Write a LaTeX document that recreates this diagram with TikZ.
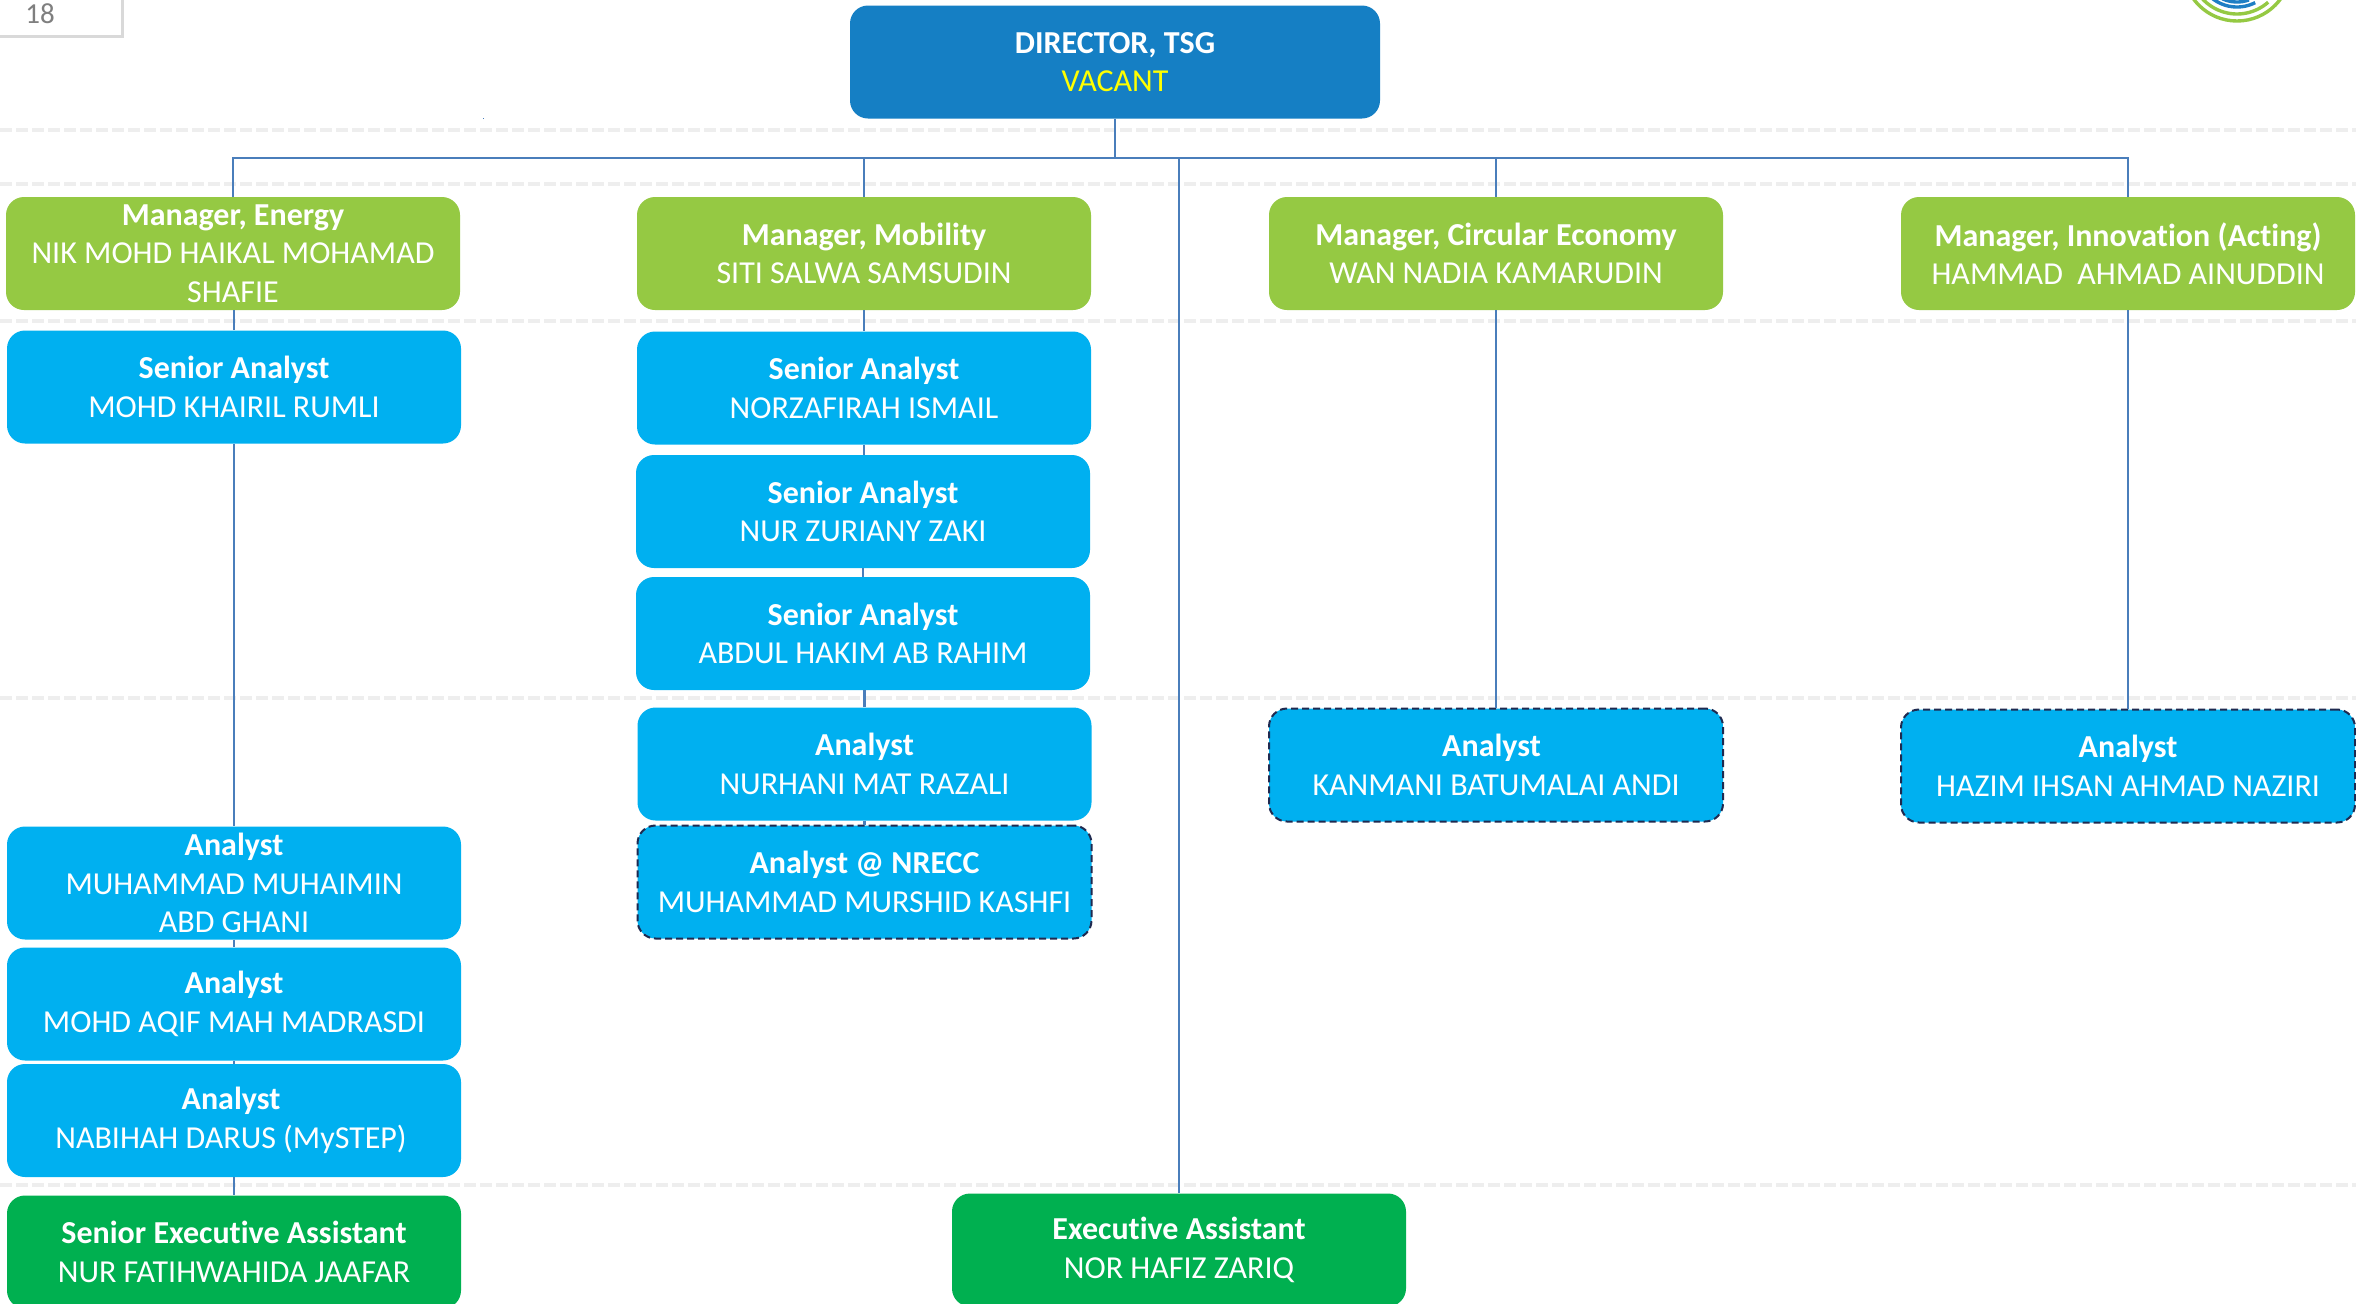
\documentclass[tikz,border=0pt]{standalone}
\usepackage{fontspec}
\setmainfont[Ligatures=NoCommon]{Carlito}
\usetikzlibrary{calc}
\definecolor{dirblue}{HTML}{157FC4}
\definecolor{mgrgreen}{HTML}{95C943}
\definecolor{skyb}{HTML}{00B0F0}
\definecolor{exgreen}{HTML}{00B050}
\definecolor{linkblue}{HTML}{4A7EBB}
\definecolor{gridgrey}{HTML}{EEEEEE}
\definecolor{navy}{HTML}{1F2A50}
\definecolor{vacant}{HTML}{FFFF00}
\definecolor{numgrey}{HTML}{7F7F7F}
\definecolor{pagegrey}{HTML}{D9D9D9}
\definecolor{logoblue}{HTML}{1F7EC4}
\tikzset{
  drop/.style={execute at begin node={\rule{0pt}{#1}}},
  orgbox/.style={rectangle,rounded corners=9pt,minimum width=227pt,minimum height=56.5pt,inner sep=0pt,
     align=center,text=white,font=\fontsize{16}{19.2}\selectfont,drop=14pt},
  dirbox/.style={orgbox,fill=dirblue,minimum width=265pt},
  mgr/.style={orgbox,fill=mgrgreen},
  staff/.style={orgbox,fill=skyb},
  exec/.style={orgbox,fill=exgreen},
  tbc/.style={staff,draw=navy,line width=1pt,dash pattern=on 3.5pt off 2pt},
  link/.style={draw=linkblue,line width=1.2pt},
  gridline/.style={draw=gridgrey,line width=1.6pt,dash pattern=on 6pt off 2pt}
}
\begin{document}
\begin{tikzpicture}[x=0.5pt,y=-0.5pt]
\clip (0,0) rectangle (2356,1303);
\fill[white] (0,0) rectangle (2356,1303);
% background rules
\foreach \yy in {130,184,321,698,1185} \draw[gridline] (0,\yy) -- (2356,\yy);
% page tab
\draw[pagegrey,line width=1.5pt] (0,36) -- (122,36) -- (122,0);
\node[text=numgrey,font=\fontsize{14.5}{16}\selectfont,inner sep=0pt] (pg) at (40,14) {18};
% speck
\fill[linkblue] (482.5,117.5) rectangle (484,119);
% logo
\begin{scope}[line width=1.7pt]
\draw[mgrgreen] (2237,-33) circle[radius=54];
\draw[mgrgreen] ($(2237,-33)+(48.5:47)$) arc[start angle=48.5,end angle=150,radius=47];
\draw[logoblue] ($(2237,-33)+(63:40)$) arc[start angle=63,end angle=140,radius=40];
\draw[logoblue] ($(2237,-33)+(70:35)$) arc[start angle=70,end angle=115,radius=35];
\end{scope}
% nodes
\node[dirbox] (dir) at (1115,62) {\textbf{DIRECTOR, TSG}\\\textcolor{vacant}{VACANT}};
\node[mgr] (m1) at (233,253.5) {\textbf{Manager, Energy}\\NIK MOHD HAIKAL MOHAMAD\\SHAFIE};
\node[mgr] (m2) at (864,253.5) {\textbf{Manager, Mobility}\\SITI SALWA SAMSUDIN};
\node[mgr] (m3) at (1496,253.5) {\textbf{Manager, Circular Economy}\\WAN NADIA KAMARUDIN};
\node[mgr] (m4) at (2128,253.5) {\textbf{Manager, Innovation (Acting)}\\HAMMAD\ \ AHMAD AINUDDIN};
\node[staff] (e1) at (234,387) {\textbf{Senior Analyst}\\MOHD KHAIRIL RUMLI};
\node[staff] (e2) at (234,883) {\textbf{Analyst}\\MUHAMMAD MUHAIMIN\\ABD GHANI};
\node[staff,drop=17pt] (e3) at (234,1004) {\textbf{Analyst}\\MOHD AQIF MAH MADRASDI};
\node[staff,drop=17pt] (e4) at (234,1120.5) {\textbf{Analyst}\hspace*{3pt}\\NABIHAH DARUS (MySTEP)\hspace*{3pt}};
\node[exec] (e5) at (234,1252) {\textbf{Senior Executive Assistant}\\NUR FATIHWAHIDA JAAFAR};
\node[staff] (b1) at (864,388) {\textbf{Senior Analyst}\\NORZAFIRAH ISMAIL};
\node[staff] (b2) at (863,511.5) {\textbf{Senior Analyst}\\NUR ZURIANY ZAKI};
\node[staff] (b3) at (863,633.5) {\textbf{Senior Analyst}\\ABDUL HAKIM AB RAHIM};
\node[staff] (b4) at (864.5,764) {\textbf{Analyst}\\NURHANI MAT RAZALI};
\node[tbc] (b5) at (864.5,882) {\textbf{Analyst @ NRECC}\\MUHAMMAD MURSHID KASHFI};
\node[tbc] (c1) at (1496,765) {\textbf{Analyst}\hspace*{4.5pt}\\KANMANI BATUMALAI ANDI};
\node[tbc] (d1) at (2128,766) {\textbf{Analyst}\\HAZIM IHSAN AHMAD NAZIRI};
\node[exec] (x1) at (1179,1250) {\textbf{Executive Assistant}\\NOR HAFIZ ZARIQ};
% connectors
\coordinate (bus) at ($(dir.south)+(0,39)$);
\draw[link] (dir.south) -- (bus);
\draw[link] (m1.north) |- (bus) -| (m4.north);
\draw[link] (m2.north) -- (m2.north |- bus);
\draw[link] (m3.north) -- (m3.north |- bus);
\draw[link] (x1.north) -- (x1.north |- bus);
\draw[link] (e1.north) -- (e1.north |- m1.south);
\draw[link] (e1.south) -- (e2.north);
\draw[link] (e2.south) -- (e3.north);
\draw[link] (e3.south) -- (e4.north);
\draw[link] (e4.south) -- (e5.north);
\draw[link] (m2.south) -- (b1.north);
\draw[link] (b1.south) -- (b1.south |- b2.north);
\draw[link] (b2.south) -- (b3.north);
\draw[link] (b4.north) -- (b4.north |- b3.south);
\draw[link] (b4.south) -- (b5.north);
\draw[link] (m3.south) -- (c1.north);
\draw[link] (m4.south) -- (d1.north);
\end{tikzpicture}
\end{document}
